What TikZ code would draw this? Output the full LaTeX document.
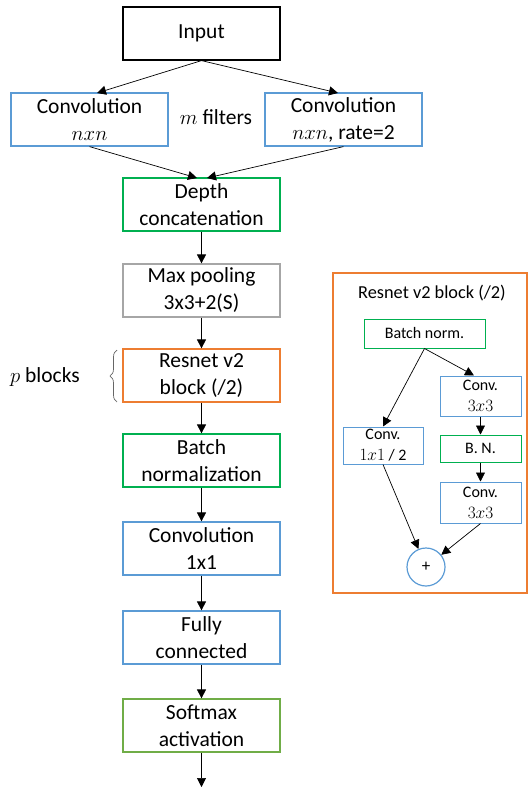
\documentclass[tikz,border=0pt]{standalone}
\usepackage{fontspec}
\setmainfont{Carlito}
\usetikzlibrary{arrows.meta,decorations.pathreplacing}
\definecolor{cblue}{RGB}{91,155,213}
\definecolor{cgreen}{RGB}{0,176,80}
\definecolor{lgreen}{RGB}{112,173,71}
\definecolor{corange}{RGB}{237,125,49}
\definecolor{cgrey}{RGB}{166,166,166}
\tikzset{
  box/.style={draw, line width=1.2pt, minimum width=157pt, minimum height=53pt, align=center, font=\fontsize{21.5}{27}\selectfont, inner sep=0pt},
  sbox/.style={draw, line width=1pt, align=center, font=\fontsize{16}{21}\selectfont, inner sep=0pt},
  arr/.style={-{Triangle[length=9pt,width=9pt]}, line width=0.7pt},
}
\begin{document}
\begin{tikzpicture}[x=1pt,y=-1pt]
\useasboundingbox (0,0) rectangle (528,787);
% main column
\node[box] (in) at (201.5,33.5) {Input};
\node[box, draw=cblue] (cl) at (89.5,119.5) {Convolution\\$nxn$};
\node[box, draw=cblue] (cr) at (343.5,119.5) {Convolution\\$nxn$, rate=2};
\node[font=\fontsize{21.5}{27}\selectfont] (mf) at (216,117) {$m$ filters};
\node[box, draw=cgreen] (dc) at (201.5,204.5) {Depth\\concatenation};
\node[box, draw=cgrey] (mp) at (201.5,290.5) {Max pooling\\3x3+2(S)};
\node[box, draw=corange] (rb) at (201.5,375.5) {Resnet v2\\block (/2)};
\node[box, draw=cgreen] (bn) at (201.5,460.5) {Batch\\normalization};
\node[box, draw=cblue] (c1) at (201.5,548.5) {Convolution\\1x1};
\node[box, draw=cblue] (fc) at (201.5,637.5) {Fully\\connected};
\node[box, draw=lgreen] (sm) at (201.5,725.5) {Softmax\\activation};
\coordinate (out) at (201.5,787);
\coordinate (inL) at (97,93);
\coordinate (inR) at (338,93);
\coordinate (dcL) at (197,178);
\coordinate (dcR) at (207,178);
\draw[arr] (in.south) -- (inL);
\draw[arr] (in.south) -- (inR);
\draw[arr] (cl.south) -- (dcL);
\draw[arr] (cr.south) -- (dcR);
\draw[arr] (dc) -- (mp);
\draw[arr] (mp) -- (rb);
\draw[arr] (rb) -- (bn);
\draw[arr] (bn) -- (c1);
\draw[arr] (c1) -- (fc);
\draw[arr] (fc) -- (sm);
\draw[arr] (sm) -- (out);
% brace
\coordinate (bt) at (117,350);
\coordinate (bb) at (117,402);
\draw[line width=0.7pt, gray!80!black, decorate, decoration={brace, amplitude=7pt}] (bb) -- (bt);
\node[font=\fontsize{21.5}{27}\selectfont] (pb) at (45,377) {$p$ blocks};
% resnet block
\node[draw=corange, line width=1.2pt, minimum width=194pt, minimum height=320pt, inner sep=0pt] (frame) at (430,433) {};
\node[font=\fontsize{18.3}{22}\selectfont] (title) at (432,293) {Resnet v2 block (/2)};
\node[sbox, draw=cgreen, minimum width=121pt, minimum height=29pt] (rbn) at (424.5,333.5) {Batch norm.};
\node[sbox, draw=cblue, minimum width=81pt, minimum height=40pt] (c3a) at (480.5,396) {Conv.\\$3x3$};
\node[sbox, draw=cgreen, minimum width=81pt, minimum height=27pt] (bn2) at (480.5,448.5) {B. N.};
\node[sbox, draw=cblue, minimum width=81pt, minimum height=41pt] (c3b) at (480.5,502.5) {Conv.\\$3x3$};
\node[sbox, draw=cblue, minimum width=80pt, minimum height=37pt] (c11) at (383,445.5) {Conv.\\$1x1$ / 2};
\node[circle, draw=cblue, line width=1.2pt, minimum size=38pt, inner sep=0pt, font=\fontsize{17}{18}\selectfont] (plus) at (426,567) {+};
\draw[arr] (rbn.south) -- (c11.north);
\draw[arr] (rbn.south) -- (c3a.north -| 474,0);
\draw[arr] (c3a) -- (bn2);
\draw[arr] (bn2) -- (c3b);
\draw[arr] (c11.south) -- (plus);
\draw[arr] (c3b.south) -- (plus);
\end{tikzpicture}
\end{document}
